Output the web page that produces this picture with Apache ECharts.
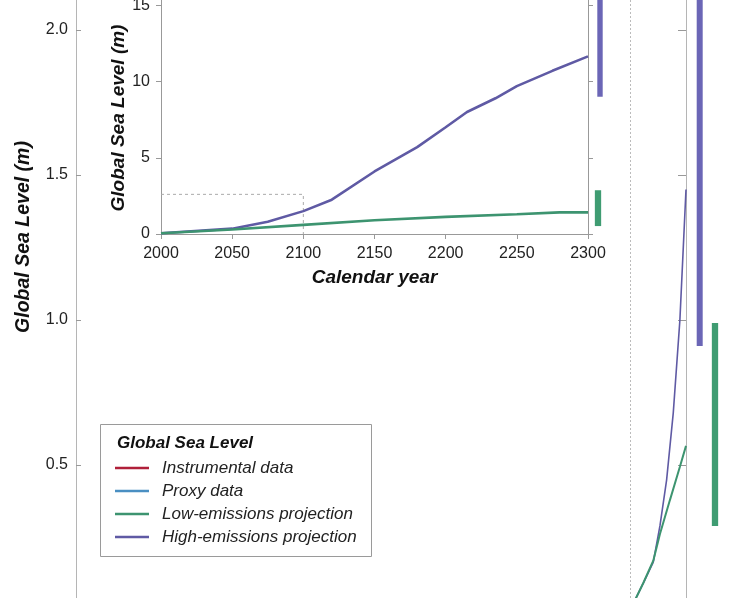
<!DOCTYPE html>
<html>
<head>
<meta charset="utf-8">
<script src="https://cdn.jsdelivr.net/npm/echarts@6/dist/echarts.min.js"></script>
<style>
html,body{margin:0;padding:0;background:#fff;}
#chart{width:747px;height:598px;}
</style>
</head>
<body>
<div id="chart"></div>
<script>
// ---- Data ----
const MAIN_X_MIN = 1000, MAIN_X_MAX = 2100;
const projectionStartYear = 2000;
const mainLowData = [[2008,0.034],[2023,0.093],[2041,0.17],[2053,0.262],[2071,0.379],[2089,0.494],[2100,0.566]];
const mainHighData = [[2008,0.034],[2023,0.093],[2041,0.165],[2053,0.29],[2065,0.448],[2077,0.679],[2089,1.0],[2100,1.45]];
const instrumentalData = [];
const proxyData = [];
const mainLowRange = [0.29, 0.99];
const mainHighRange = [0.91, 2.3];

const INSET_X_MIN = 2000, INSET_X_MAX = 2300;
const insetLowData = [[2000,0.05],[2050,0.3],[2100,0.6],[2150,0.9],[2200,1.12],[2250,1.3],[2280,1.42],[2300,1.42]];
const insetHighData = [[2000,0.05],[2050,0.35],[2075,0.8],[2100,1.5],[2120,2.25],[2150,4.1],[2180,5.7],[2200,7.0],[2215,8.0],[2235,8.9],[2250,9.7],[2275,10.7],[2300,11.65]];
const insetZoomBox = [[2000,2.6],[2100,2.6],[2100,0]];
const insetLowRange = [0.52, 2.87];
const insetHighRange = [9.0, 16];

const legendNames = ['Instrumental data','Proxy data','Low-emissions projection','High-emissions projection'];

// ---- Styles ----
const FONT = "'Liberation Sans', Arial, Helvetica, sans-serif";
const C_RED = '#b0203a', C_BLUE = '#4a8fc2', C_GREEN = '#3d9470', C_PURPLE = '#5f5aa4';
const C_GREEN_BAR = '#3f9c72', C_PURPLE_BAR = '#6b66b6';

function barRenderer(xEnd, offset, width, color) {
  return function (params, api) {
    const lo = api.value(0), hi = api.value(1);
    const pLo = api.coord([xEnd, lo]);
    const pHi = api.coord([xEnd, hi]);
    return {
      type: 'rect',
      shape: { x: pLo[0] + offset - width / 2, y: pHi[1], width: width, height: pLo[1] - pHi[1] },
      style: { fill: color }
    };
  };
}

const chart = echarts.init(document.getElementById('chart'), null, { renderer: 'canvas' });

const option = {
  backgroundColor: '#fff',
  animation: false,
  grid: [
    { left: 76, right: 61, top: -115, bottom: -12, outerBoundsMode: 'none', containLabel: false },
    { left: 161, right: 159, top: -71, bottom: 364, outerBoundsMode: 'none', containLabel: false }
  ],
  xAxis: [
    { gridIndex: 0, type: 'value', min: MAIN_X_MIN, max: MAIN_X_MAX, show: false },
    {
      gridIndex: 1, type: 'value', min: INSET_X_MIN, max: INSET_X_MAX, interval: 50,
      axisLine: { show: true, lineStyle: { color: '#999', width: 1 } },
      axisTick: { show: true, inside: false, length: 5, lineStyle: { color: '#999' } },
      axisLabel: { margin: 12, fontSize: 16, color: '#222', fontFamily: FONT, formatter: v => String(v) },
      splitLine: { show: false },
      name: 'Calendar year', nameLocation: 'middle', nameGap: 34,
      nameTextStyle: { fontSize: 19, fontWeight: 'bold', fontStyle: 'italic', color: '#111', fontFamily: FONT }
    }
  ],
  yAxis: [
    {
      gridIndex: 0, type: 'value', min: 0, max: 2.5, interval: 0.5, position: 'left',
      axisLine: { show: true, lineStyle: { color: '#b5b5b5', width: 1 } },
      axisTick: { show: true, inside: true, length: 5, lineStyle: { color: '#999' } },
      axisLabel: { margin: 8, fontSize: 16, color: '#222', fontFamily: FONT, formatter: v => v.toFixed(1) },
      splitLine: { show: false }
    },
    {
      gridIndex: 0, type: 'value', min: 0, max: 2.5, interval: 0.5, position: 'right',
      axisLine: { show: true, lineStyle: { color: '#b5b5b5', width: 1 } },
      axisTick: { show: true, inside: true, length: 8, lineStyle: { color: '#999' } },
      axisLabel: { show: false },
      splitLine: { show: false }
    },
    {
      gridIndex: 1, type: 'value', min: 0, max: 20, interval: 5, position: 'left',
      axisLine: { show: true, lineStyle: { color: '#999', width: 1 } },
      axisTick: { show: true, inside: false, length: 5, lineStyle: { color: '#999' } },
      axisLabel: { margin: 11, fontSize: 16, color: '#222', fontFamily: FONT, formatter: v => String(v) },
      splitLine: { show: false }
    },
    {
      gridIndex: 1, type: 'value', min: 0, max: 20, interval: 5, position: 'right',
      axisLine: { show: true, lineStyle: { color: '#999', width: 1 } },
      axisTick: { show: true, inside: false, length: 5, lineStyle: { color: '#999' } },
      axisLabel: { show: false },
      splitLine: { show: false }
    }
  ],
  legend: {
    data: legendNames.map(n => ({ name: n, icon: 'rect' })),
    orient: 'vertical',
    left: 115, top: 459.5,
    padding: 0,
    itemWidth: 34, itemHeight: 2.4, itemGap: 6,
    textStyle: { fontSize: 17, fontStyle: 'italic', color: '#222', fontFamily: FONT, padding: [0, 0, 0, 8] },
    selectedMode: false
  },
  graphic: [
    { type: 'rect', shape: { x: 100.5, y: 424.5, width: 271, height: 132 }, style: { fill: 'none', stroke: '#9a9a9a', lineWidth: 1 }, z: 10 },
    { type: 'text', x: 117, y: 443.5, style: { text: 'Global Sea Level', font: 'italic bold 17px ' + FONT, fill: '#111', verticalAlign: 'middle' }, z: 10 },
    { type: 'text', x: 24, y: 237, rotation: Math.PI / 2, style: { text: 'Global Sea Level (m)', font: 'italic bold 19.5px ' + FONT, fill: '#111', align: 'center', verticalAlign: 'middle' } },
    { type: 'text', x: 119, y: 118, rotation: Math.PI / 2, style: { text: 'Global Sea Level (m)', font: 'italic bold 19px ' + FONT, fill: '#111', align: 'center', verticalAlign: 'middle' } }
  ],
  series: [
    { name: 'Instrumental data', type: 'line', xAxisIndex: 0, yAxisIndex: 0, data: instrumentalData, symbol: 'none', lineStyle: { color: C_RED, width: 2 }, itemStyle: { color: C_RED } },
    { name: 'Proxy data', type: 'line', xAxisIndex: 0, yAxisIndex: 0, data: proxyData, symbol: 'none', lineStyle: { color: C_BLUE, width: 2 }, itemStyle: { color: C_BLUE } },
    {
      name: 'Low-emissions projection', type: 'line', xAxisIndex: 0, yAxisIndex: 0, data: mainLowData, symbol: 'none',
      lineStyle: { color: C_GREEN, width: 2 }, itemStyle: { color: C_GREEN }, z: 3,
      markLine: {
        silent: true, symbol: 'none', label: { show: false },
        lineStyle: { color: '#bbb', type: [2, 2], width: 1 },
        data: [{ xAxis: projectionStartYear }]
      }
    },
    { name: 'High-emissions projection', type: 'line', xAxisIndex: 0, yAxisIndex: 0, data: mainHighData, symbol: 'none', lineStyle: { color: C_PURPLE, width: 1.6 }, itemStyle: { color: C_PURPLE }, z: 2 },
    { name: 'mainHighBar', type: 'custom', xAxisIndex: 0, yAxisIndex: 0, clip: false, data: [mainHighRange], renderItem: barRenderer(MAIN_X_MAX, 13.7, 6, C_PURPLE_BAR) },
    { name: 'mainLowBar', type: 'custom', xAxisIndex: 0, yAxisIndex: 0, clip: false, data: [mainLowRange], renderItem: barRenderer(MAIN_X_MAX, 29, 6.3, C_GREEN_BAR) },

    { name: 'insetBox', type: 'line', xAxisIndex: 1, yAxisIndex: 2, data: insetZoomBox, symbol: 'none', silent: true, lineStyle: { color: '#aaa', width: 1, type: [3, 3] }, z: 1 },
    { name: 'Low-emissions projection', type: 'line', xAxisIndex: 1, yAxisIndex: 2, data: insetLowData, symbol: 'none', lineStyle: { color: C_GREEN, width: 2.6 }, itemStyle: { color: C_GREEN }, z: 3 },
    { name: 'High-emissions projection', type: 'line', xAxisIndex: 1, yAxisIndex: 2, data: insetHighData, symbol: 'none', lineStyle: { color: C_PURPLE, width: 2.6 }, itemStyle: { color: C_PURPLE }, z: 2 },
    { name: 'insetHighBar', type: 'custom', xAxisIndex: 1, yAxisIndex: 2, clip: false, data: [insetHighRange], renderItem: barRenderer(INSET_X_MAX, 12, 5.4, C_PURPLE_BAR) },
    { name: 'insetLowBar', type: 'custom', xAxisIndex: 1, yAxisIndex: 2, clip: false, data: [insetLowRange], renderItem: barRenderer(INSET_X_MAX, 10, 6.3, C_GREEN_BAR) }
  ]
};
chart.setOption(option);
</script>
</body>
</html>
